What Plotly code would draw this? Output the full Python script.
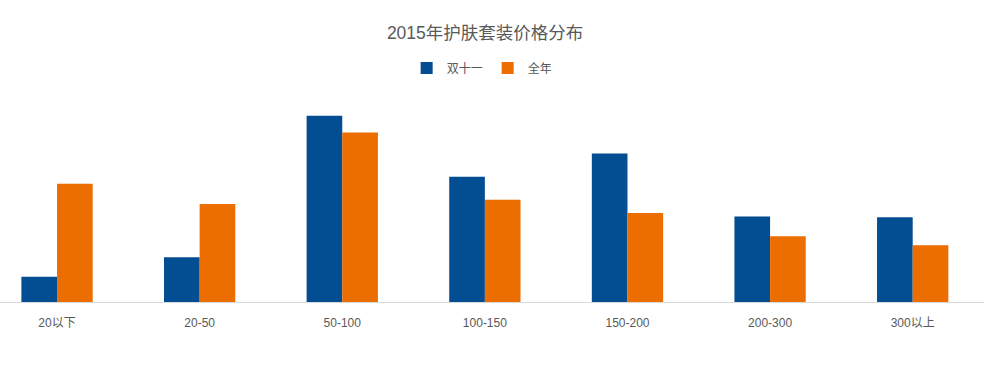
import plotly.graph_objects as go

categories = ["20以下", "20-50", "50-100", "100-150", "150-200", "200-300", "300以上"]
double11 = [3.6, 6.4, 26.6, 17.9, 21.2, 12.2, 12.1]
full_year = [16.9, 14.0, 24.2, 14.6, 12.7, 9.4, 8.1]

FONT = "Liberation Sans, Noto Sans CJK SC, sans-serif"

fig = go.Figure()
fig.add_trace(go.Bar(name="双十一", x=categories, y=double11, marker_color="#034D93",
                     marker_line_width=0))
fig.add_trace(go.Bar(name="全年", x=categories, y=full_year, marker_color="#EC6D00",
                     marker_line_width=0))

fig.update_layout(
    width=990, height=373,
    barmode="group", bargap=0.5, bargroupgap=0,
    plot_bgcolor="white", paper_bgcolor="white",
    margin=dict(l=0, r=6, t=80, b=71, autoexpand=False),
    font=dict(family=FONT, color="#595959", size=12),
    title=dict(text="2015年护肤套装价格分布", x=0.49, xanchor="center",
               y=1 - 33 / 373, yanchor="middle", yref="container",
               font=dict(size=17.5, color="#595959", family=FONT)),
    legend=dict(orientation="h", x=0.49, xanchor="center",
                y=1 - 68 / 373, yanchor="middle", yref="container",
                font=dict(size=12, color="#595959"),
                itemwidth=30, traceorder="normal"),
    xaxis=dict(range=[-0.4, 6.5], showline=True, linecolor="#D9D9D9", linewidth=1,
               ticks="", showgrid=False, ticklabelstandoff=10,
               tickfont=dict(size=12, color="#595959")),
    yaxis=dict(range=[0, 222 / 7.0], visible=False, showgrid=False),
)

fig.write_html("out.html", config={"displayModeBar": False},
               post_script="document.body.style.margin='0';window.dispatchEvent(new Event('resize'));")
